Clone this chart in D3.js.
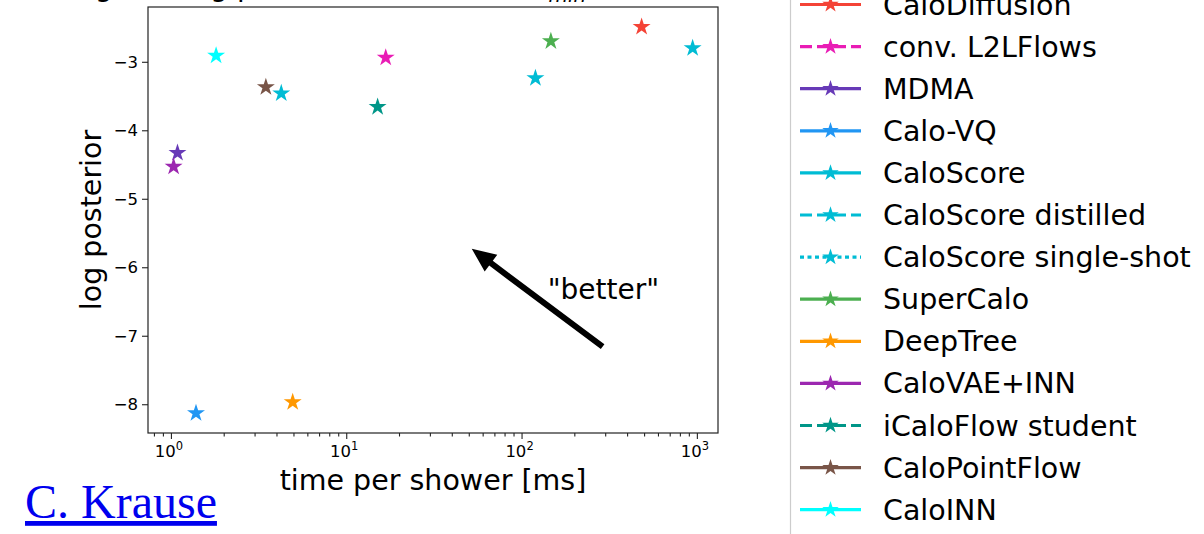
<!DOCTYPE html>
<html>
<head>
<meta charset="utf-8">
<script src="https://cdn.jsdelivr.net/npm/d3@7"></script>
<style>
  body { margin: 0; background: #fff; }
  svg { display: block; font-family: "DejaVu Sans", sans-serif; }
</style>
</head>
<body>
<div class="chart"></div>
<script>
var svgWidth = 1204;
var svgHeight = 534;

// models, in legend order
var models = ["CaloDiffusion", "conv. L2LFlows", "MDMA", "Calo-VQ", "CaloScore",
  "CaloScore distilled", "CaloScore single-shot", "SuperCalo", "DeepTree",
  "CaloVAE+INN", "iCaloFlow student", "CaloPointFlow", "CaloINN"];
var colors = ["#f44336", "#e91cb5", "#673ab7", "#2196f3", "#00bcd4",
  "#00bcd4", "#00bcd4", "#4caf50", "#ff9800",
  "#9c27b0", "#009688", "#795548", "#00ffff"];
var lineStyles = ["solid", "dashed", "solid", "solid", "solid",
  "dashed", "dotted", "solid", "solid",
  "solid", "dashed", "solid", "solid"];
// time per shower [ms] and log posterior
var timeMs = [484, 16.8, 1.09, 1.39, 946, 120, 4.26, 147, 4.95, 1.036, 15.1, 3.48, 1.81];
var logPosterior = [-2.49, -2.94, -4.33, -8.13, -2.80, -3.24, -3.46, -2.70, -7.97, -4.53, -3.66, -3.37, -2.91];

var xMajorTicks = [1, 10, 100, 1000];
var yTicks = [-8, -7, -6, -5, -4, -3];

// "better" annotation (data coords)
var arrowFrom = [290, -7.16];
var arrowTo = [52, -5.73];
var betterPos = [141, -6.46];

var plot = { left: 148, right: 718, top: 7, bottom: 433 };

var svg = d3.select(".chart")
  .append("svg")
  .attr("width", svgWidth)
  .attr("height", svgHeight);

var xScale = d3.scaleLog().domain([0.74, 1320]).range([plot.left, plot.right]);
var yScale = d3.scaleLinear().domain([-8.42, -2.2]).range([plot.bottom, plot.top]);

// title, mostly cut off at the top
var title = svg.append("text")
  .attr("x", 44)
  .attr("y", -4)
  .style("font-size", "28px")
  .text("Weighted log posterior, dataset 2, E");
title.append("tspan")
  .attr("dy", 6)
  .style("font-size", "20px")
  .style("font-style", "italic")
  .text("min");

// x axis, major + minor
var xAxis = d3.axisBottom(xScale)
  .tickValues(xMajorTicks)
  .tickSize(6)
  .tickPadding(5)
  .tickFormat("");

var minorTicks = xScale.ticks().filter(function(t) { return xMajorTicks.indexOf(t) < 0; });
var xAxisMinor = d3.axisBottom(xScale)
  .tickValues(minorTicks)
  .tickSize(3.5)
  .tickFormat("");

svg.append("g")
  .attr("class", "x axis")
  .attr("transform", "translate(0," + plot.bottom + ")")
  .call(xAxis);

svg.append("g")
  .attr("class", "x axis minor")
  .attr("transform", "translate(0," + plot.bottom + ")")
  .call(xAxisMinor);

// 10^n labels
xMajorTicks.forEach(function(t) {
  var lab = svg.append("text")
    .attr("x", xScale(t) - 2)
    .attr("y", 457)
    .attr("text-anchor", "middle")
    .style("font-size", "16.5px")
    .text("10");
  lab.append("tspan")
    .attr("dy", -7)
    .style("font-size", "11.5px")
    .text(Math.round(Math.log10(t)));
});

var yAxis = d3.axisLeft(yScale)
  .tickValues(yTicks)
  .tickSize(6)
  .tickPadding(4)
  .tickFormat(function(d) { return "\u2212" + Math.abs(d); });

svg.append("g")
  .attr("class", "y axis")
  .attr("transform", "translate(" + plot.left + ",0)")
  .call(yAxis);

svg.selectAll(".axis .domain").remove();
svg.selectAll(".axis line").attr("stroke", "#222").attr("stroke-width", 1.1);
svg.selectAll(".y.axis text")
  .style("font-size", "16.5px")
  .style("font-family", "DejaVu Sans")
  .attr("fill", "#000");

// frame
svg.append("rect")
  .attr("x", plot.left)
  .attr("y", plot.top)
  .attr("width", plot.right - plot.left)
  .attr("height", plot.bottom - plot.top)
  .attr("fill", "none")
  .attr("stroke", "#222")
  .attr("stroke-width", 1.2);

// axis labels
svg.append("text")
  .attr("x", (plot.left + plot.right) / 2)
  .attr("y", 490)
  .attr("text-anchor", "middle")
  .style("font-size", "28.5px")
  .text("time per shower [ms]");

svg.append("text")
  .attr("transform", "rotate(-90)")
  .attr("x", -220)
  .attr("y", 101)
  .attr("text-anchor", "middle")
  .style("font-size", "28.5px")
  .text("log posterior");

// stars
var star = d3.symbol().type(d3.symbolStar);

svg.append("g")
  .selectAll("path")
  .data(models)
  .enter()
  .append("path")
  .attr("transform", function(d, i) {
    return "translate(" + xScale(timeMs[i]) + "," + yScale(logPosterior[i]) + ")";
  })
  .attr("d", star.size(100))
  .attr("fill", function(d, i) { return colors[i]; });

// "better" arrow
var ax0 = xScale(arrowFrom[0]), ay0 = yScale(arrowFrom[1]);
var ax1 = xScale(arrowTo[0]), ay1 = yScale(arrowTo[1]);
var len = Math.hypot(ax1 - ax0, ay1 - ay0);
var ang = Math.atan2(ay1 - ay0, ax1 - ax0) * 180 / Math.PI;
var shaftW = 6, headW = 21, headL = 24;
svg.append("path")
  .attr("transform", "translate(" + ax0 + "," + ay0 + ") rotate(" + ang + ")")
  .attr("d", "M0," + (-shaftW / 2) +
    "L" + (len - headL) + "," + (-shaftW / 2) +
    "L" + (len - headL) + "," + (-headW / 2) +
    "L" + len + ",0" +
    "L" + (len - headL) + "," + (headW / 2) +
    "L" + (len - headL) + "," + (shaftW / 2) +
    "L0," + (shaftW / 2) + "Z")
  .attr("fill", "#000");

svg.append("text")
  .attr("x", xScale(betterPos[0]))
  .attr("y", yScale(betterPos[1]))
  .style("font-size", "28px")
  .text("\"better\"");

// legend
var legend = svg.append("g");
legend.append("rect")
  .attr("x", 790.5)
  .attr("y", -20)
  .attr("width", 500)
  .attr("height", 600)
  .attr("rx", 6)
  .attr("fill", "#fff")
  .attr("stroke", "#cccccc")
  .attr("stroke-width", 1.2);

var dashFor = { solid: null, dashed: "12,5", dotted: "4,3.5" };
var legendTop = 4.5, legendStep = 42.1;

var items = legend.selectAll(".item")
  .data(models)
  .enter()
  .append("g")
  .attr("class", "item")
  .attr("transform", function(d, i) { return "translate(0," + (legendTop + i * legendStep) + ")"; });

items.append("line")
  .attr("x1", 800)
  .attr("x2", 861)
  .attr("stroke", function(d, i) { return colors[i]; })
  .attr("stroke-width", 3.2)
  .attr("stroke-dasharray", function(d, i) { return dashFor[lineStyles[i]]; });

items.append("path")
  .attr("transform", "translate(830.5,0)")
  .attr("d", star.size(85))
  .attr("fill", function(d, i) { return colors[i]; });

items.append("text")
  .attr("x", 883)
  .attr("y", 10)
  .style("font-size", "28.5px")
  .text(function(d) { return d; });

// author link
svg.append("text")
  .attr("x", 25)
  .attr("y", 518)
  .style("font-family", "'Liberation Serif', serif")
  .style("font-size", "48px")
  .style("text-decoration", "underline")
  .attr("fill", "#0000ee")
  .text("C. Krause");
</script>
</body>
</html>
